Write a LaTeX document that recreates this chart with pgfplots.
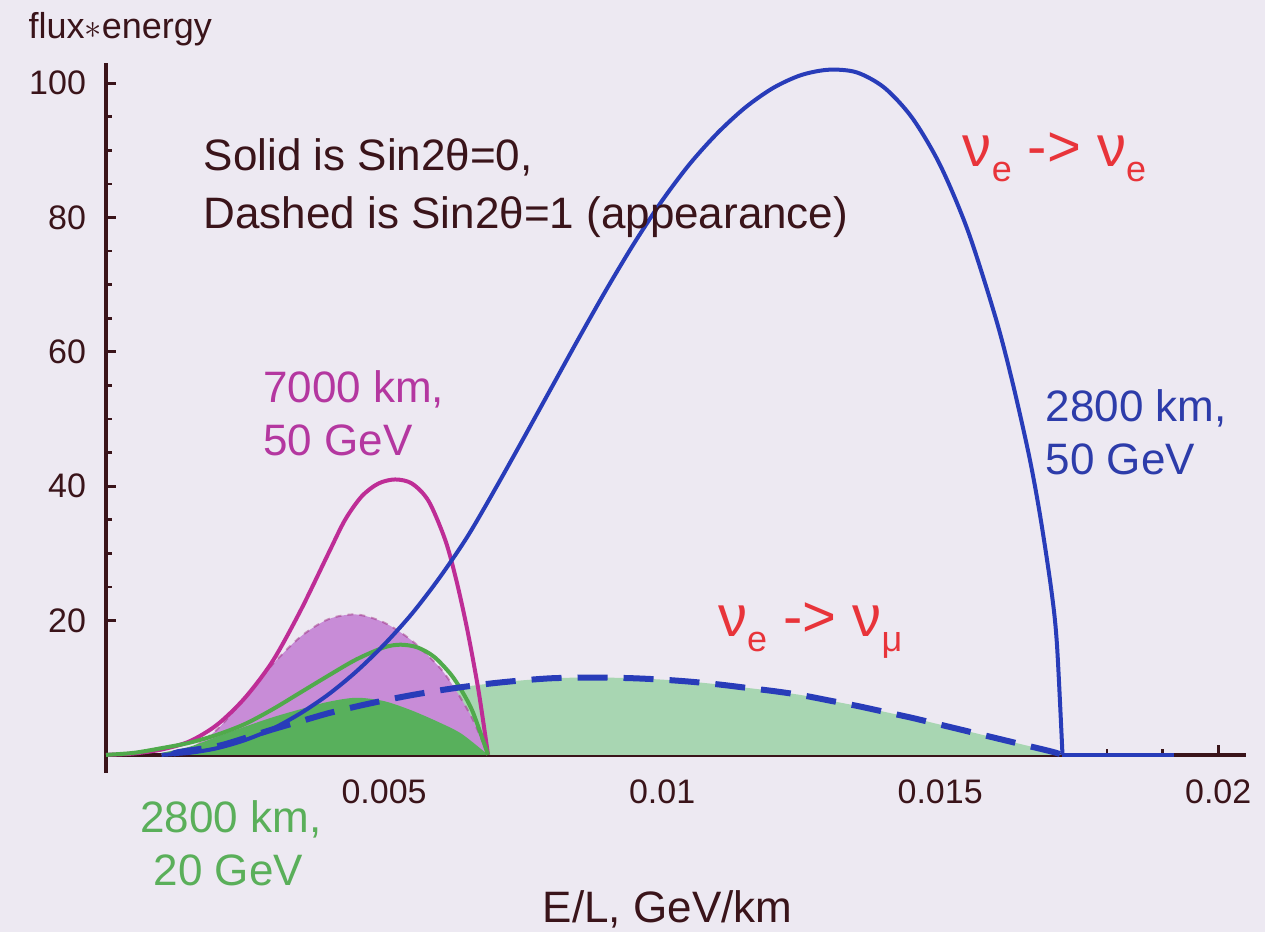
\documentclass[border=0pt]{standalone}
\usepackage{pgfplots}
\pgfplotsset{compat=1.18}
\usepackage{pgfplotstable}
\usepackage{fontspec}
\setmainfont{Liberation Sans}

\definecolor{bg}{RGB}{237,233,242}
\definecolor{axiscol}{RGB}{58,20,26}
\definecolor{blueline}{RGB}{40,60,185}
\definecolor{magline}{RGB}{190,45,150}
\definecolor{greenline}{RGB}{80,170,75}
\definecolor{purplefill}{RGB}{200,140,215}
\definecolor{darkgreenfill}{RGB}{88,176,92}
\definecolor{lightgreenfill}{RGB}{168,214,178}
\definecolor{redtext}{RGB}{232,52,58}
\definecolor{magtext}{RGB}{180,55,160}
\definecolor{bluetext}{RGB}{45,60,170}
\definecolor{greentext}{RGB}{90,175,90}

% 2800 km, 50 GeV, nu_e -> nu_e (sin2theta = 0)
\pgfplotstableread{
x y
0.0010 0.0
0.0015 0.3
0.0020 1.0
0.0025 2.2
0.0030 3.9
0.0035 6.2
0.0040 9.0
0.0045 12.4
0.0050 16.4
0.0055 21.0
0.0060 26.4
0.0065 32.5
0.0070 39.6
0.0075 47.0
0.0080 54.5
0.0085 62.0
0.0090 69.3
0.0095 76.2
0.0100 82.5
0.0105 88.0
0.0110 92.6
0.0115 96.4
0.0120 99.3
0.0125 101.2
0.0130 102.0
0.0135 101.6
0.0140 99.3
0.0145 94.8
0.0150 87.8
0.0155 78.0
0.0160 65.0
0.0163 55.5
0.0166 44.5
0.0168 35.5
0.0170 24.5
0.0171 16.5
0.0172 0.0
}\bluesolid

% 2800 km, 50 GeV, nu_e -> nu_mu (sin2theta = 1)
\pgfplotstableread{
x y
0.0012 0.0
0.0013 0.4
0.0020 1.3
0.0025 2.5
0.0030 3.8
0.0035 5.0
0.0040 6.2
0.0045 7.2
0.0050 8.1
0.0055 8.9
0.0060 9.6
0.0065 10.2
0.0070 10.7
0.0075 11.1
0.0080 11.4
0.0085 11.5
0.0090 11.5
0.0095 11.4
0.0100 11.2
0.0105 10.9
0.0110 10.5
0.0115 10.0
0.0120 9.5
0.0125 8.9
0.0130 8.1
0.0135 7.3
0.0140 6.4
0.0145 5.5
0.0150 4.5
0.0155 3.5
0.0160 2.5
0.0165 1.5
0.0170 0.5
0.0172 0.0
}\bluedashed

% 7000 km, 50 GeV, solid
\pgfplotstableread{
x y
0.0000 0.0
0.0005 0.2
0.0010 0.8
0.0015 2.0
0.0020 4.5
0.0025 8.5
0.0030 14.0
0.0035 21.5
0.0040 30.0
0.0043 35.0
0.0046 38.5
0.0049 40.4
0.0052 41.0
0.0055 40.4
0.0058 37.8
0.0061 32.0
0.0063 26.0
0.0065 18.5
0.0067 9.5
0.00687 0.0
}\magsolid

% 7000 km, 50 GeV, dashed
\pgfplotstableread{
x y
0.0010 0.1
0.0015 0.8
0.0020 3.8
0.0025 8.5
0.0030 13.5
0.0035 17.6
0.0040 20.2
0.0045 20.9
0.0050 19.7
0.0055 17.0
0.0060 13.0
0.0063 9.5
0.0066 5.2
0.00687 0.0
}\magdashed

% 2800 km, 20 GeV, solid
\pgfplotstableread{
x y
0.0000 0.0
0.0005 0.3
0.0010 1.0
0.0015 1.8
0.0020 3.0
0.0025 4.6
0.0030 6.8
0.0035 9.3
0.0040 11.8
0.0045 14.2
0.0050 16.0
0.0053 16.4
0.0056 16.0
0.0059 14.6
0.0062 12.0
0.0064 9.5
0.0066 6.3
0.00687 0.0
}\greensolid

% 2800 km, 20 GeV, dashed
\pgfplotstableread{
x y
0.0010 0.3
0.0015 1.2
0.0020 2.7
0.0025 4.2
0.0030 5.6
0.0035 6.8
0.0040 7.9
0.0045 8.5
0.0050 8.0
0.0055 6.6
0.0060 4.8
0.0064 3.1
0.00687 0.0
}\greendashed

\begin{document}
\begin{tikzpicture}
\fill[bg] (0,0) rectangle (632.5pt,466pt);
\path[use as bounding box] (0,0) rectangle (632.5pt,466pt);
\begin{axis}[
  at={(53pt,79.5pt)}, anchor=south west,
  scale only axis, width=570pt, height=355pt,
  axis lines=middle,
  axis line style={axiscol, line width=1.8pt, -},
  xmin=0, xmax=0.0205, ymin=-2.7, ymax=103,
  clip=false,
  xtick={0.005,0.01,0.015,0.02},
  xticklabels={0.005,0.01,0.015,0.02},
  ytick={20,40,60,80,100},
  minor x tick num=4, minor y tick num=3,
  tick align=inside,
  major tick length=5pt, minor tick length=3pt,
  tick style={axiscol, line width=1.4pt},
  /pgf/number format/assume math mode=true,
  ticklabel style={font=\fontsize{17}{20}\selectfont, text=axiscol},
  xticklabel style={anchor=north, yshift=-9pt},
  yticklabel style={anchor=east, xshift=-6.5pt},
  scaled x ticks=false,
  every axis plot/.append style={smooth, tension=0.5},
]
% filled areas
\addplot[draw=none, fill=lightgreenfill] table {\bluedashed} \closedcycle;
\addplot[draw=none, fill=purplefill] table {\magdashed} \closedcycle;
\addplot[magline!80!black, opacity=0.45, line width=1pt, dashed] table {\magdashed};
\addplot[draw=none, fill=darkgreenfill] table {\greendashed} \closedcycle;
% curves
\addplot[magline, line width=2pt] table {\magsolid};
\addplot[greenline, line width=2pt] table {\greensolid};
\addplot[blueline, line width=2pt] table {\bluesolid};
\addplot[blueline, line width=2pt, sharp plot] coordinates {(0.0172,0) (0.0192,0)};
\addplot[blueline, line width=3pt, dash pattern=on 15pt off 8pt] table {\bluedashed};

% annotations
\node[anchor=base west, inner sep=0, text=axiscol, font=\fontsize{18}{20}\selectfont]
  at (axis cs:-0.0014,106.7) {flux$\ast$energy};
\node[anchor=base west, inner sep=0, text=axiscol, font=\fontsize{22}{26}\selectfont]
  at (axis cs:0.00175,87.0) {Solid is Sin2θ=0,};
\node[anchor=base west, inner sep=0, text=axiscol, font=\fontsize{22}{26}\selectfont]
  at (axis cs:0.00175,78.4) {Dashed is Sin2θ=1 (appearance)};
\node[anchor=base west, inner sep=0, text=redtext, font=\fontsize{29}{32}\selectfont]
  at (axis cs:0.0154,87.6) {ν\raisebox{-7.5pt}{\fontsize{18}{20}\selectfont e} -> ν\raisebox{-7.5pt}{\fontsize{18}{20}\selectfont e}};
\node[anchor=base west, inner sep=0, text=redtext, font=\fontsize{29}{32}\selectfont]
  at (axis cs:0.0110,17.6) {ν\raisebox{-7.5pt}{\fontsize{18}{20}\selectfont e} -> ν\raisebox{-7.5pt}{\fontsize{18}{20}\selectfont μ}};
\node[anchor=base west, inner sep=0, text=magtext, font=\fontsize{22}{26}\selectfont]
  at (axis cs:0.00282,52.5) {7000 km,};
\node[anchor=base west, inner sep=0, text=magtext, font=\fontsize{22}{26}\selectfont]
  at (axis cs:0.00282,44.5) {50 GeV};
\node[anchor=base west, inner sep=0, text=bluetext, font=\fontsize{22}{26}\selectfont]
  at (axis cs:0.01689,49.6) {2800 km,};
\node[anchor=base west, inner sep=0, text=bluetext, font=\fontsize{22}{26}\selectfont]
  at (axis cs:0.01689,41.8) {50 GeV};
\node[anchor=base west, inner sep=0, text=greentext, font=\fontsize{22}{26}\selectfont]
  at (axis cs:0.00061,-11.5) {2800 km,};
\node[anchor=base west, inner sep=0, text=greentext, font=\fontsize{22}{26}\selectfont]
  at (axis cs:0.00085,-19.4) {20 GeV};
\node[anchor=base, inner sep=0, text=axiscol, font=\fontsize{22}{26}\selectfont]
  at (axis cs:0.0101,-24.9) {E/L, GeV/km};
\end{axis}
\end{tikzpicture}
\end{document}
